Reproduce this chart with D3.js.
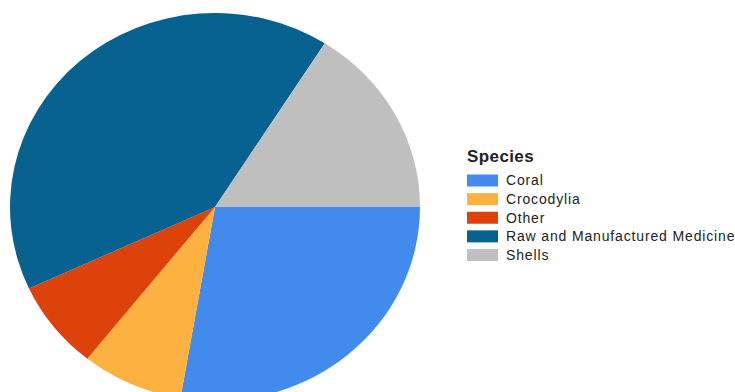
<!DOCTYPE html>
<html>
<head>
<meta charset="utf-8">
<script src="https://cdn.jsdelivr.net/npm/d3@7"></script>
<style>
  body { margin: 0; background: #fff; }
  svg { display: block; font-family: Arial, "Liberation Sans", sans-serif; }
</style>
</head>
<body>
<div id="chart"></div>
<script>
const categories = ["Coral", "Crocodylia", "Other", "Raw and Manufactured Medicine", "Shells"];
const values = [27.7, 8.0, 7.4, 40.9, 16.0];
const colors = ["#428bed", "#fcb140", "#de420b", "#07628f", "#bfbfbf"];
const legendTitle = "Species";

const W = 735, H = 392;
const cx = 215, cy = 207, rx = 205, ry = 194;

const svg = d3.select("#chart").append("svg")
  .attr("width", W)
  .attr("height", H);

const pie = d3.pie()
  .sort(null)
  .value(d => d.value)
  .startAngle(Math.PI / 2)
  .endAngle(Math.PI / 2 + 2 * Math.PI);

const arc = d3.arc().innerRadius(0).outerRadius(rx);

const data = categories.map((c, i) => ({ name: c, value: values[i], color: colors[i] }));

// chart is a bit squashed vertically in the original
svg.append("g")
  .attr("transform", `translate(${cx},${cy}) scale(1,${ry / rx})`)
  .selectAll("path")
  .data(pie(data))
  .join("path")
  .attr("d", arc)
  .attr("fill", d => d.data.color);

const legend = svg.append("g").attr("transform", "translate(467,0)");

legend.append("text")
  .attr("x", 0)
  .attr("y", 162)
  .attr("font-size", 17)
  .attr("font-weight", "bold")
  .attr("letter-spacing", 0.4)
  .attr("fill", "#222")
  .text(legendTitle);

const rowY = d3.scalePoint().domain(categories).range([180.5, 255]);

const item = legend.selectAll("g.item")
  .data(data)
  .join("g")
  .attr("class", "item")
  .attr("transform", d => `translate(0,${rowY(d.name)})`);

item.append("rect")
  .attr("x", 0)
  .attr("y", -6)
  .attr("width", 31)
  .attr("height", 12)
  .attr("fill", d => d.color);

item.append("text")
  .attr("x", 39)
  .attr("y", 0)
  .attr("dy", "0.35em")
  .attr("font-size", 14)
  .attr("letter-spacing", 0.85)
  .attr("fill", "#222")
  .text(d => d.name);
</script>
</body>
</html>
